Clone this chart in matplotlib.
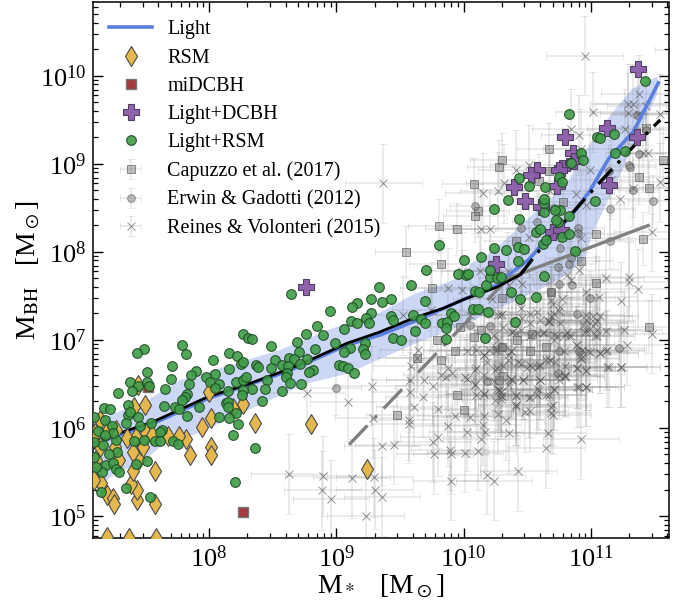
import numpy as np
import matplotlib
matplotlib.use("Agg")
import matplotlib.pyplot as plt

plt.rcParams['font.family'] = ['Liberation Serif', 'DejaVu Serif']
plt.rcParams['mathtext.fontset'] = 'stix'

# all values are log10 of the solar masses

# model curves
light_x = [7.09, 7.56, 8.0, 8.61, 9.08, 9.35, 9.61, 10.0, 10.26, 10.39, 10.51, 10.65, 10.84, 10.99, 11.14, 11.335, 11.41, 11.53]
light_y = [5.82, 6.05, 6.34, 6.64, 6.94, 7.06, 7.21, 7.46, 7.62, 7.78, 7.91, 8.14, 8.40, 8.69, 9.06, 9.37, 9.58, 9.92]
band_up_x = [7.09, 7.25, 7.51, 7.77, 8.16, 8.55, 8.95, 9.34, 9.61, 9.87, 10.0, 10.05, 10.21, 10.39, 10.60, 10.79, 10.92, 11.07, 11.20, 11.32, 11.52]
band_up_y = [6.08, 6.17, 6.32, 6.55, 6.72, 6.89, 7.13, 7.32, 7.53, 7.66, 7.76, 7.87, 8.0, 8.23, 8.52, 8.74, 9.08, 9.41, 9.65, 9.86, 10.0]
band_lo_x = [7.09, 7.14, 7.25, 7.51, 7.64, 7.9, 8.29, 8.76, 9.08, 9.34, 9.61, 10.0, 10.3, 10.6, 10.8, 10.94, 11.02, 11.18, 11.335, 11.44, 11.52]
band_lo_y = [5.30, 5.37, 5.47, 5.66, 5.83, 5.94, 6.2, 6.51, 6.62, 6.79, 6.96, 7.18, 7.38, 7.58, 7.74, 7.91, 8.25, 8.74, 9.23, 9.56, 9.80]
black_x = [7.09, 7.25, 7.56, 8.0, 8.29, 8.61, 8.82, 9.08, 9.34, 9.61, 9.84, 10.0, 10.26, 10.445]
black_y = [5.84, 5.92, 6.07, 6.36, 6.49, 6.66, 6.79, 6.96, 7.09, 7.25, 7.36, 7.46, 7.60, 7.74]
black_dd_x = [10.445, 10.65, 10.89, 11.05, 11.335, 11.545]
black_dd_y = [7.74, 8.12, 8.50, 8.76, 9.20, 9.50]
gray_x = [10.35, 11.45]
gray_y = [7.70, 8.30]
gray_dd_x = [9.10, 10.35]
gray_dd_y = [5.81, 7.70]

# simulation points
rsm_x = [7.44, 7.495, 7.411, 7.997, 8.264, 8.188, 8.013, 7.945, 8.364, 8.804, 9.241, 7.817, 7.762, 7.678, 7.853, 8.018, 8.018, 7.573, 7.579, 7.437, 7.437, 7.39, 7.403, 7.448, 7.403, 7.463, 7.508, 7.55, 7.429, 7.359, 7.141, 7.272, 7.259, 7.293, 7.141, 7.115, 7.154, 7.094, 7.199, 7.246, 7.254, 7.199, 7.369, 7.581, 7.484, 7.102, 7.207]
rsm_y = [6.489, 6.265, 6.242, 6.405, 6.269, 6.223, 6.11, 6.015, 6.061, 6.042, 5.538, 5.875, 5.909, 5.913, 5.693, 5.788, 5.693, 5.511, 5.133, 5.182, 5.295, 5.364, 5.511, 5.648, 5.731, 5.807, 5.939, 5.92, 5.902, 5.89, 6.091, 5.977, 5.788, 5.636, 5.788, 5.636, 5.371, 5.409, 5.239, 5.201, 5.133, 4.765, 4.754, 4.746, 5.788, 5.939, 5.977]
midcbh_x = [7.521, 8.27]
midcbh_y = [6.462, 5.042]
dcbh_x = [11.369, 11.126, 11.361, 10.793, 10.859, 10.869, 10.772, 10.751, 10.576, 10.529, 10.393, 10.733, 11.139, 10.484, 10.61, 10.699, 10.767, 10.257, 8.759]
dcbh_y = [10.076, 9.413, 9.311, 9.311, 9.121, 9.034, 8.958, 8.932, 8.932, 8.875, 8.742, 8.75, 8.761, 8.583, 8.508, 8.231, 8.25, 7.86, 7.606]
green_x = [8.641, 9.335, 9.27, 9.162, 9.126, 8.953, 9.27, 9.118, 9.23, 9.257, 9.165, 8.851, 9.06, 8.764, 8.895, 8.267, 8.306, 8.34, 8.688, 8.992, 8.484, 7.791, 7.822, 7.492, 7.435, 8.835, 9.105, 9.223, 9.21, 9.06, 9.225, 8.709, 8.157, 8.223, 8.031, 8.518, 8.628, 8.665, 8.772, 8.712, 9.021, 9.052, 9.094, 9.141, 8.817, 8.788, 7.712, 7.51, 8.254, 8.267, 8.372, 8.387, 8.484, 8.573, 8.62, 8.157, 7.895, 8.047, 7.859, 7.702, 7.974, 8.01, 8.076, 8.047, 7.843, 7.516, 7.38, 7.44, 7.395, 7.526, 7.288, 7.652, 8.215, 8.267, 8.293, 8.458, 8.613, 8.602, 8.634, 8.723, 8.573, 8.437, 8.335, 8.152, 8.267, 8.262, 8.419, 7.827, 7.812, 7.791, 7.647, 7.361, 7.173, 7.22, 7.73, 7.767, 7.921, 8.131, 8.152, 8.147, 8.215, 8.076, 8.157, 7.827, 7.366, 7.38, 7.445, 7.183, 7.094, 7.348, 7.547, 7.458, 7.238, 8.23, 8.188, 8.361, 8.202, 7.534, 7.348, 7.51, 7.634, 7.613, 7.573, 7.613, 7.717, 7.754, 7.487, 7.408, 7.272, 7.246, 7.128, 7.18, 7.094, 7.168, 7.277, 7.215, 7.094, 7.194, 7.246, 7.267, 7.293, 7.424, 7.162, 7.11, 7.147,
           9.702, 9.589, 9.359, 9.432, 9.694, 9.432, 9.445, 9.6, 9.665, 9.694, 9.618, 9.442, 9.508, 9.861, 9.832, 9.869, 9.861, 9.903, 9.927, 10.073, 10.113, 10.194, 10.165, 10.406, 10.086, 10.118, 10.372, 10.445, 10.571, 10.175, 10.204, 10.262, 10.296, 10.634, 9.953, 10.016, 10.034, 10.209,
           10.0, 10.136, 10.241, 10.33, 10.424, 10.471, 10.424, 10.62, 10.571, 10.602, 10.647, 10.777, 10.825, 10.872, 10.738, 10.725, 10.437, 10.628, 10.634, 10.628, 10.759, 10.72, 10.825, 10.241, 10.346, 10.516, 10.432, 10.641, 10.751, 10.772, 10.846, 10.924, 10.935, 11.047, 11.073, 11.181, 11.188, 11.272, 10.832, 11.427, 11.031, 9.804]
green_y = [7.523, 7.598, 7.462, 7.424, 7.371, 7.333, 7.303, 7.22, 7.246, 7.189, 7.197, 7.163, 7.121, 7.068, 7.053, 7.068, 7.023, 7.011, 6.981, 6.962, 6.932, 6.943, 6.841, 6.902, 6.856, 6.902, 6.913, 6.962, 6.894, 6.867, 6.837, 6.867, 6.848, 6.818, 6.769, 6.773, 6.792, 6.78, 6.78, 6.727, 6.716, 6.708, 6.678, 6.621, 6.655, 6.64, 6.701, 6.64, 6.723, 6.746, 6.72, 6.689, 6.678, 6.712, 6.705, 6.674, 6.648, 6.614, 6.598, 6.553, 6.583, 6.519, 6.496, 6.455, 6.496, 6.523, 6.519, 6.481, 6.424, 6.481, 6.394, 6.443, 6.527, 6.542, 6.583, 6.545, 6.621, 6.576, 6.515, 6.504, 6.424, 6.439, 6.439, 6.42, 6.432, 6.379, 6.303, 6.386, 6.356, 6.318, 6.25, 6.265, 6.223, 6.216, 6.242, 6.212, 6.242, 6.28, 6.292, 6.242, 6.174, 6.125, 6.11, 6.14, 6.144, 6.186, 6.129, 6.091, 6.129, 6.053, 6.061, 6.023, 6.027, 6.042, 5.924, 5.777, 5.386, 5.22, 5.318, 5.621, 5.973, 5.955, 5.856, 5.852, 5.848, 5.814, 5.864, 5.848, 5.864, 5.939, 5.966, 5.92, 5.841, 5.811, 5.727, 5.701, 5.674, 5.58, 5.598, 5.534, 5.496, 5.591, 5.504, 5.553, 5.277,
           7.795, 7.625, 7.428, 7.47, 7.443, 7.273, 7.227, 7.284, 7.235, 7.197, 7.106, 7.027, 7.0, 7.008, 7.189, 7.205, 7.136, 7.303, 7.273, 7.352, 7.348, 7.322, 7.019, 7.201, 7.561, 7.542, 7.542, 7.47, 7.485, 7.629, 7.712, 7.701, 7.72, 7.731, 7.75, 7.739, 7.75, 7.795,
           7.909, 7.947, 8.042, 8.023, 8.053, 8.034, 7.902, 8.091, 8.223, 8.258, 8.136, 8.174, 8.205, 8.008, 8.337, 8.364, 8.371, 8.451, 8.553, 8.602, 8.477, 8.477, 8.413, 8.492, 8.587, 8.75, 8.845, 8.735, 8.856, 8.792, 9.015, 9.129, 9.042, 9.311, 9.299, 9.337, 9.121, 9.152, 9.568, 9.947, 8.58, 8.08]

# observations
cap_x = [10.67, 10.30, 10.28, 10.08, 11.57, 11.46, 11.38, 10.67, 10.59, 10.78, 10.11, 10.09, 9.81, 9.95, 9.55, 9.82, 11.43, 11.04, 11.41, 10.41, 10.92, 9.75, 11.04, 10.30, 10.69, 9.97, 10.14, 10.08, 9.79, 9.63, 9.93, 9.82, 9.95, 10.0, 9.48, 11.46, 10.42, 10.52, 10.65, 10.54, 10.28, 10.31, 10.30]
cap_y = [9.17, 9.05, 8.97, 8.77, 9.05, 8.73, 8.85, 8.92, 8.81, 8.57, 8.47, 8.41, 8.30, 8.26, 8.00, 7.86, 9.41, 8.20, 8.15, 8.12, 7.90, 7.59, 7.65, 7.48, 7.54, 7.15, 7.11, 7.03, 7.00, 6.79, 6.87, 6.77, 6.38, 6.20, 6.15, 7.15, 7.0, 6.88, 6.92, 7.07, 6.55, 6.59, 6.92]
erwin_x = [10.09, 10.45, 10.58, 10.71, 10.90, 10.90, 11.15, 11.15, 11.49, 11.33, 11.38, 11.30, 11.31, 11.36, 11.43, 11.14, 10.76, 10.84, 10.74, 10.83, 10.85, 10.75, 10.69, 10.99, 10.89, 10.21, 10.05, 10.30, 10.91, 10.75, 10.74, 10.18, 11.22, 8.995]
erwin_y = [8.52, 8.27, 8.34, 8.50, 8.27, 8.21, 8.49, 8.12, 8.58, 8.70, 9.11, 8.99, 8.97, 9.56, 9.39, 8.92, 8.04, 7.93, 7.83, 7.86, 7.63, 7.64, 7.54, 7.48, 7.30, 7.16, 7.17, 6.92, 6.88, 6.88, 6.63, 6.53, 6.91, 6.45]
reines_x = [11.30, 11.30, 11.37, 11.24, 11.12, 11.06, 10.96, 10.77, 10.75, 10.58, 10.70, 10.66, 10.67, 10.60, 10.69, 10.45, 10.46, 10.36, 10.41, 9.99, 9.88, 9.99, 10.13, 10.35, 10.81, 10.91, 10.84, 10.22, 10.30, 10.27, 10.05, 9.74, 9.52, 10.46, 10.52, 10.71, 10.69, 10.76, 10.96, 11.02, 11.07, 11.05, 10.96, 10.94, 10.99, 11.05, 11.12, 11.26, 11.48, 10.95, 11.05, 10.88, 10.84, 10.80, 10.73, 10.71, 10.63, 10.58, 10.52, 10.45, 10.38, 10.41, 10.31, 10.27, 10.24, 10.25, 10.26, 10.37, 10.35, 10.20, 10.18, 10.16, 10.10, 10.10, 10.03, 9.88, 9.91, 9.82, 9.86, 10.01, 10.03, 10.09, 10.16, 10.26, 10.31, 10.43, 10.45, 10.50, 10.54, 10.58, 10.60, 10.65, 10.68, 10.72, 10.80, 10.80, 10.75, 10.89, 10.96, 10.92, 10.92, 10.93, 10.98, 11.07, 11.12, 11.13, 11.24, 11.28, 9.59, 9.63, 9.64, 9.58, 9.69, 9.76, 9.68, 9.58, 9.61, 9.80, 9.57, 9.57, 9.88, 9.93, 10.05, 10.16, 10.27, 10.33, 10.36, 10.15, 10.17, 10.14, 10.03, 9.80, 9.76, 9.77, 9.89, 9.90, 10.01, 10.11, 9.45, 9.36, 9.90, 10.18, 10.24, 10.43, 10.65, 10.66, 10.92, 9.36, 10.10, 10.16, 10.25, 10.29, 10.30, 10.28, 10.41, 10.41, 10.41, 10.48, 10.52, 10.52, 10.58, 10.58, 10.60, 10.65, 10.70, 10.69, 10.70, 10.91, 10.96, 10.80, 10.71, 10.38, 10.37, 10.35, 10.29, 10.47, 10.26, 10.24,
            10.95, 11.54, 11.02, 11.29, 11.33, 11.43, 11.29, 11.37, 11.38, 10.84, 10.91, 11.27, 11.41, 11.45, 10.92, 10.99, 10.51, 10.41, 10.32, 10.27, 10.15, 9.37, 11.54, 11.33, 11.16, 11.23, 10.88, 10.96, 10.14, 10.21, 10.51, 11.48, 10.92, 10.68, 11.8,
            8.626, 8.895, 9.12, 9.296, 8.89, 8.96, 9.30, 9.23, 8.77, 9.09, 9.28, 9.29,
            10.995, 11.03, 10.96, 11.03, 10.81, 10.76, 10.67, 10.29, 10.62, 10.71, 10.52, 10.38, 10.37, 10.25, 10.16, 10.35, 10.25, 10.09, 10.09, 10.16, 10.28, 10.29, 10.37, 10.47, 10.41, 10.51, 10.59, 10.60, 10.67, 10.71, 10.80, 10.75, 10.89, 10.96, 11.14, 11.24, 10.89, 10.96, 11.13, 11.07, 10.995, 10.92, 10.89, 10.83, 10.79, 10.68, 10.59, 10.52, 10.41, 10.69]
reines_y = [7.72, 7.66, 7.58, 7.44, 7.70, 7.49, 7.55, 7.47, 7.33, 7.32, 7.41, 7.22, 7.20, 7.23, 7.45, 7.36, 7.64, 7.63, 7.70, 7.57, 7.59, 7.78, 7.78, 7.78, 7.74, 7.80, 7.68, 7.47, 7.30, 7.28, 7.28, 7.34, 7.28, 7.25, 7.30, 7.30, 7.27, 7.38, 7.28, 7.27, 7.27, 7.21, 7.23, 7.17, 7.13, 7.11, 7.10, 7.11, 7.07, 7.09, 7.04, 6.94, 7.04, 7.06, 7.04, 7.00, 7.09, 7.08, 7.04, 7.11, 7.09, 7.08, 7.15, 7.00, 7.06, 6.92, 6.89, 6.87, 6.83, 6.89, 6.75, 6.83, 6.89, 6.68, 6.87, 6.68, 6.62, 6.60, 6.58, 6.58, 6.56, 6.50, 6.60, 6.68, 6.70, 6.75, 6.73, 6.68, 6.69, 6.69, 6.72, 6.77, 6.77, 6.75, 6.70, 6.60, 6.60, 6.68, 6.65, 6.78, 6.83, 6.89, 6.87, 6.85, 6.88, 6.69, 6.69, 6.94, 6.70, 6.79, 6.89, 6.54, 6.55, 6.48, 6.35, 6.41, 6.24, 6.22, 6.09, 6.05, 6.02, 6.14, 6.12, 6.14, 6.16, 6.09, 5.94, 6.03, 5.96, 5.88, 5.96, 5.90, 5.84, 5.70, 5.75, 5.70, 5.72, 5.74, 5.81, 5.80, 5.40, 5.47, 5.40, 5.51, 5.77, 5.94, 5.87, 5.22, 6.38, 6.39, 6.32, 6.33, 6.36, 6.43, 6.37, 6.26, 6.24, 6.18, 6.19, 6.35, 6.38, 6.44, 6.55, 6.38, 6.26, 6.17, 6.15, 6.46, 6.47, 6.59, 6.44, 6.55, 6.56, 6.49, 6.41, 6.55, 6.44, 6.53,
            10.23, 9.57, 9.59, 9.68, 9.68, 9.66, 9.58, 9.57, 9.79, 9.40, 9.33, 9.40, 9.13, 9.12, 9.17, 8.93, 8.99, 8.93, 8.78, 8.69, 8.67, 8.78, 8.79, 8.73, 8.82, 8.60, 8.66, 8.53, 8.26, 8.26, 8.17, 8.23, 8.16, 8.69, 10.3,
            5.477, 5.455, 5.43, 5.44, 5.29, 5.19, 5.30, 5.0, 6.40, 6.30, 6.48, 6.11,
            7.19, 7.19, 7.11, 7.04, 7.09, 7.19, 7.21, 7.28, 7.08, 7.06, 7.19, 7.09, 6.87, 6.89, 6.83, 6.77, 6.66, 6.66, 6.49, 6.39, 6.43, 6.36, 6.56, 6.55, 6.36, 6.34, 6.43, 6.55, 6.375, 6.43, 6.58, 6.55, 6.68, 6.66, 6.69, 6.69, 6.46, 6.47, 6.89, 6.85, 6.86, 6.79, 6.94, 7.04, 6.87, 6.77, 6.70, 6.72, 6.26, 6.24]


def obs(ax, x, y, ex, ey, marker, ms, label, z, bar_alpha=0.16):
    # errors are symmetric in dex, so asymmetric once on the log axes
    x = np.array(x)
    y = np.array(y)
    xerr = [10**x - 10**(x - ex), 10**(x + ex) - 10**x]
    yerr = [10**y - 10**(y - ey), 10**(y + ey) - 10**y]
    ax.errorbar(10**x, 10**y, xerr=xerr, yerr=yerr, fmt=marker, ms=ms, mfc=(0.45, 0.45, 0.45, 0.45),
                mec=(0.3, 0.3, 0.3, 0.6), mew=0.7, ecolor=(0.5, 0.5, 0.5, bar_alpha), elinewidth=1.3, capsize=3,
                capthick=1.3, label=label, zorder=z)


fig = plt.figure(figsize=(6.92, 6.04), dpi=100)
ax = fig.add_axes([93/692, 1 - 538/604, 575.5/692, 536/604])

# band needs a shared x grid for fill_between
band_grid = np.array(sorted(set(band_up_x + band_lo_x)))
ax.fill_between(10**band_grid, 10**np.interp(band_grid, band_lo_x, band_lo_y), 10**np.interp(band_grid, band_up_x, band_up_y),
                color='#6f8ee6', alpha=0.35, lw=0, zorder=1)

obs(ax, cap_x, cap_y, 0.25, 0.3, 's', 5.5, 'Capuzzo et al. (2017)', 2.1)
obs(ax, erwin_x, erwin_y, 0.2, 0.3, 'o', 5.5, 'Erwin & Gadotti (2012)', 2.2)
obs(ax, reines_x, reines_y, 0.3, 0.45, 'x', 6, 'Reines & Volonteri (2015)', 2.3, bar_alpha=0.17)

ax.plot(10**np.array(light_x), 10**np.array(light_y), color='#5b7fdf', lw=2.6, label='Light', zorder=3)
ax.plot(10**np.array(black_x), 10**np.array(black_y), color='k', lw=2, zorder=3.2)
ax.plot(10**np.array(black_dd_x), 10**np.array(black_dd_y), color='k', lw=2.4, ls=(0, (6, 2.5, 1, 2.5)), zorder=3.2)
ax.plot(10**np.array(gray_x), 10**np.array(gray_y), color='#808080', lw=2.4, zorder=3.1)
ax.plot(10**np.array(gray_dd_x), 10**np.array(gray_dd_y), color='#808080', lw=2.4, ls=(0, (8, 3, 1, 3)), zorder=3.1)

ax.plot(10**np.array(rsm_x), 10**np.array(rsm_y), 'd', ms=10.5, mfc='#e5b84e', mec='#4a4a4a', mew=0.8, label='RSM', zorder=4)
ax.plot(10**np.array(midcbh_x), 10**np.array(midcbh_y), 's', ms=7.5, mfc='#a33a3c', mec='#777777', mew=1, label='miDCBH', zorder=4.1)
ax.plot(10**np.array(dcbh_x), 10**np.array(dcbh_y), 'P', ms=11.5, mfc='#8a5ca8', mec='#4a3a5a', mew=0.8, alpha=0.95, label='Light+DCBH', zorder=4.2)
ax.plot(10**np.array(green_x), 10**np.array(green_y), 'o', ms=7, mfc='#3f9c48', mec='#1e4a22', mew=0.8, alpha=0.9, label='Light+RSM', zorder=4.3)

ax.set_xscale('log')
ax.set_yscale('log')
ax.set_xlim(10**7.088, 10**11.61)
ax.set_ylim(10**4.75, 10**10.84)
ax.set_xticks([1e8, 1e9, 1e10, 1e11])
ax.set_yticks([1e5, 1e6, 1e7, 1e8, 1e9, 1e10])
ax.xaxis.set_minor_locator(matplotlib.ticker.LogLocator(base=10, subs=np.arange(2, 10), numticks=20))
ax.yaxis.set_minor_locator(matplotlib.ticker.LogLocator(base=10, subs=np.arange(2, 10), numticks=20))
ax.xaxis.set_minor_formatter(matplotlib.ticker.NullFormatter())
ax.yaxis.set_minor_formatter(matplotlib.ticker.NullFormatter())
ax.tick_params(which='major', direction='in', top=True, right=True, length=7, width=1, labelsize=19, pad=5)
ax.tick_params(which='minor', direction='in', top=True, right=True, length=3.5, width=0.9)
for s in ax.spines.values():
    s.set_linewidth(1.1)

ax.set_xlabel(r'M$_*$   [M$_\odot$]', fontsize=20, labelpad=1)
ax.set_ylabel(r'M$_{\rm BH}$   [M$_\odot$]', fontsize=20, labelpad=-2)

handles, labels = ax.get_legend_handles_labels()
order = ['Light', 'RSM', 'miDCBH', 'Light+DCBH', 'Light+RSM', 'Capuzzo et al. (2017)', 'Erwin & Gadotti (2012)', 'Reines & Volonteri (2015)']
by_label = dict(zip(labels, handles))
ax.legend([by_label[k] for k in order], order, loc='upper left', frameon=False, fontsize=14.5, handlelength=2.13,
          labelspacing=0.455, handletextpad=0.75, borderaxespad=0, borderpad=0, bbox_to_anchor=(0.028, 0.966))

fig.savefig('out.png', dpi=100)
